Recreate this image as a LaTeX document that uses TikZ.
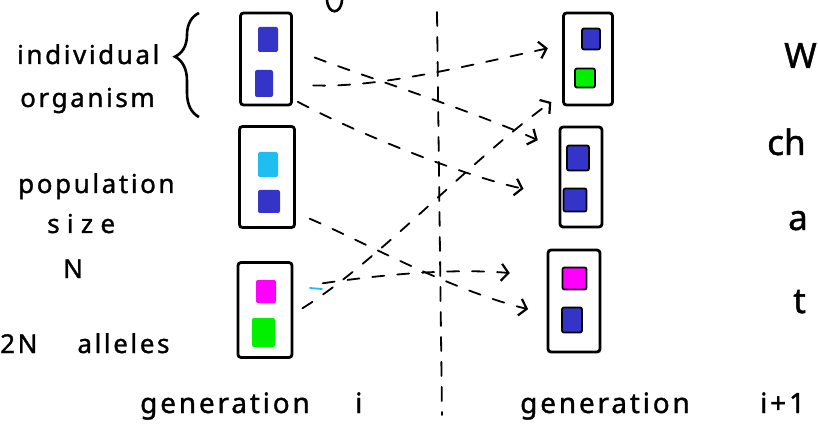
\documentclass[tikz,border=0pt]{standalone}
\usepackage{fontspec}
\setmainfont{Noto Sans}
\newfontfamily\handfont{Noto Sans}[LetterSpace=10,FakeBold=1.2]
\newfontfamily\bighand{Noto Sans}[FakeBold=1.2]
\usetikzlibrary{arrows.meta,decorations.pathreplacing}

\definecolor{allelblue}{RGB}{52,52,200}
\definecolor{allelcyan}{RGB}{30,190,240}
\definecolor{allelmag}{RGB}{255,0,255}
\definecolor{allelgreen}{RGB}{0,240,0}

\begin{document}
\begin{tikzpicture}[x=1pt,y=-1pt,
  label/.style={font=\handfont\fontsize{26}{28}\selectfont, inner sep=0pt, anchor=base west},
  gen/.style={font=\handfont\fontsize{28}{30}\selectfont, inner sep=0pt, anchor=base west},
  big/.style={font=\bighand\fontsize{35}{38}\selectfont, inner sep=0pt, anchor=base west},
  orgbox/.style={draw, line width=2.8pt, rounded corners=3pt, inner sep=0pt},
  allele/.style={inner sep=0pt, rounded corners=2pt},
  newallele/.style={allele, draw=black, line width=1.8pt},
  flow/.style={line width=1.8pt, dash pattern=on 12pt off 13pt, line cap=round,
    -{Straight Barb[length=7pt,width=17pt,line width=2.2pt]}},
  divider/.style={line width=1.8pt, dash pattern=on 14pt off 11pt, line cap=round},
]
\useasboundingbox (0,0) rectangle (818,430);

% left-hand labels
\node[label] (lindiv) at (17,64) {individual};
\node[label] (lorg) at (20,107) {organism};
\node[label] (lpop) at (18,193) {population};
\node[label] (lsize) at (47,233) {\addfontfeature{LetterSpace=28}size};
\node[label] (lN) at (63,278) {N};
\node[label] (lalle) at (0,353) {2N\hspace{40pt}alleles};
\coordinate (brbot) at (199,117);
\coordinate (brtop) at (199,13);
\draw[line width=2.6pt, decorate, decoration={brace, amplitude=24pt, aspect=0.58}] (brbot) -- (brtop);

% generation i
\node[orgbox, minimum width=51pt, minimum height=92pt] (L1) at (266,59) {};
\node[orgbox, minimum width=55pt, minimum height=101pt] (L2) at (267,177) {};
\node[orgbox, minimum width=54pt, minimum height=95pt] (L3) at (265,310) {};
\node[allele, fill=allelblue, minimum width=20pt, minimum height=25pt] (L1a) at (268,39.5) {};
\node[allele, fill=allelblue, minimum width=18pt, minimum height=27pt] (L1b) at (264,83.5) {};
\node[allele, fill=allelcyan, minimum width=20pt, minimum height=25pt] (L2a) at (268,164.5) {};
\node[allele, fill=allelblue, minimum width=22pt, minimum height=23pt] (L2b) at (269,201.5) {};
\node[allele, fill=allelmag, minimum width=20pt, minimum height=23pt] (L3a) at (266,291.5) {};
\node[allele, fill=allelgreen, minimum width=23pt, minimum height=29pt] (L3b) at (263.5,332.5) {};

% generation i+1
\node[orgbox, minimum width=49pt, minimum height=92pt] (R1) at (588,59) {};
\node[orgbox, minimum width=42pt, minimum height=100pt] (R2) at (581,177) {};
\node[orgbox, minimum width=52pt, minimum height=102pt] (R3) at (574,301) {};
\node[newallele, fill=allelblue, minimum width=18pt, minimum height=21pt] (R1a) at (591,39) {};
\node[newallele, fill=allelgreen, minimum width=20pt, minimum height=19pt] (R1b) at (585,78) {};
\node[newallele, fill=allelblue, minimum width=22pt, minimum height=25pt] (R2a) at (578,158) {};
\node[newallele, fill=allelblue, minimum width=23pt, minimum height=23pt] (R2b) at (575,200) {};
\node[newallele, fill=allelmag, minimum width=24pt, minimum height=22pt] (R3a) at (574.5,278.5) {};
\node[newallele, fill=allelblue, minimum width=20pt, minimum height=25pt] (R3b) at (572,320) {};

% dividing line between the generations
\coordinate (divtop) at (437,12);
\coordinate (divbot) at (442,415);
\draw[divider] (divtop) -- (divbot);

% inheritance of alleles
\draw[flow, shorten <=40pt, shorten >=34pt] (L1b) .. controls (380,88) and (470,65) .. (R1a);
\draw[flow, shorten <=32pt, shorten >=28pt] (L3b) .. controls (380,260) and (470,160) .. (R1b);
\draw[flow, shorten <=39pt, shorten >=31pt] (L1a) .. controls (360,75) and (470,110) .. (R2a);
\draw[flow, shorten <=28pt, shorten >=40pt] (L1b) .. controls (350,130) and (460,175) .. (R2b);
\draw[flow, shorten <=32pt, shorten >=34pt] (L2b) .. controls (360,240) and (450,290) .. (R3b);
\draw[flow, shorten <=47pt, shorten >=52pt] (L3a) .. controls (380,275) and (450,268) .. (R3a);
\coordinate (cyanA) at (310,288);
\coordinate (cyanB) at (322,289);
\draw[allelcyan, line width=1.8pt, line cap=round] (cyanA) -- (cyanB);

% stroke at the top edge
\coordinate (topA) at (327,0);
\coordinate (topB) at (342,0);
\draw[line width=2.6pt] (topA) .. controls (328,15) and (341,15) .. (topB);

% generation labels
\node[gen] (gleft) at (140,413) {generation};
\node[gen] (ileft) at (355,413) {i};
\node[gen] (gright) at (520,413) {generation};
\node[gen] (iright) at (760,413) {i+1};

% text on the right edge
\node[big] (tW) at (784,68) {W};
\node[big] (tch) at (767,155) {ch};
\node[big] (ta) at (788,230) {a};
\node[big] (tt) at (793,313) {t};
\end{tikzpicture}
\end{document}
